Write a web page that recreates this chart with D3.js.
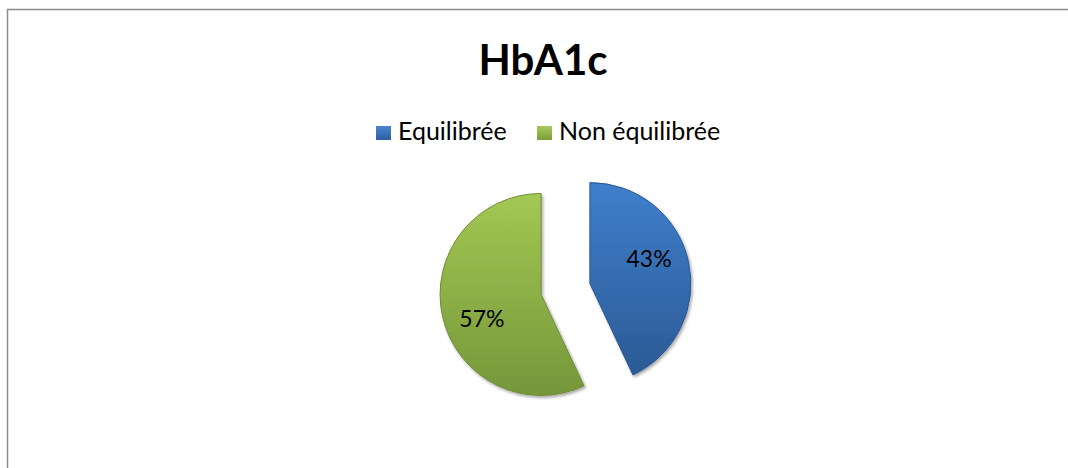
<!DOCTYPE html>
<html>
<head>
<meta charset="utf-8">
<script src="https://d3js.org/d3.v7.min.js"></script>
<style>
  body { margin: 0; background: #fff; }
  text { font-family: Lato, "Open Sans", sans-serif; }
</style>
</head>
<body>
<div id="chart"></div>
<script>
var title = "HbA1c";
var categories = ["Equilibrée", "Non équilibrée"];
var values = [43, 57];
var labels = ["43%", "57%"];

var width = 1068, height = 468;
var cx = 565.5, cy = 289, radius = 101, explode = 25;

var colors = [
  {top: "#3f7fcc", bottom: "#2b5a95", legendTop: "#4a86d0", legendBottom: "#2d5f9e"},
  {top: "#a3c853", bottom: "#76963a", legendTop: "#a6ca57", legendBottom: "#7c9c3c"}
];

var svg = d3.select("#chart")
  .append("svg")
    .attr("width", width)
    .attr("height", height);

var defs = svg.append("defs");

colors.forEach(function(c, i) {
  var g = defs.append("linearGradient")
      .attr("id", "grad" + i)
      .attr("x1", 0).attr("y1", 0).attr("x2", 0).attr("y2", 1);
  g.append("stop").attr("offset", "0%").attr("stop-color", c.top);
  g.append("stop").attr("offset", "100%").attr("stop-color", c.bottom);

  var lg = defs.append("linearGradient")
      .attr("id", "lgrad" + i)
      .attr("x1", 0).attr("y1", 0).attr("x2", 0).attr("y2", 1);
  lg.append("stop").attr("offset", "0%").attr("stop-color", c.legendTop);
  lg.append("stop").attr("offset", "100%").attr("stop-color", c.legendBottom);
});

var shadow = defs.append("filter").attr("id", "shadow")
    .attr("x", "-20%").attr("y", "-20%").attr("width", "140%").attr("height", "140%");
shadow.append("feDropShadow")
    .attr("dx", 1.5).attr("dy", 2)
    .attr("stdDeviation", 1.5)
    .attr("flood-color", "#000")
    .attr("flood-opacity", 0.35);

// frame (right and bottom edges fall outside the picture)
svg.append("rect")
    .attr("x", 7.5)
    .attr("y", 9.5)
    .attr("width", width + 20)
    .attr("height", height + 20)
    .attr("fill", "#fff")
    .attr("stroke", "#8c8c8c")
    .attr("stroke-width", 1.5);

// title
svg.append("text")
    .attr("x", 543)
    .attr("y", 75)
    .attr("text-anchor", "middle")
    .attr("font-size", "42px")
    .attr("font-weight", "bold")
    .attr("fill", "#000")
    .text(title);

// legend
var legend = svg.append("g");
var legendX = [376, 537];
categories.forEach(function(name, i) {
  legend.append("rect")
      .attr("x", legendX[i])
      .attr("y", 126)
      .attr("width", 15)
      .attr("height", 14)
      .attr("fill", "url(#lgrad" + i + ")");
  legend.append("text")
      .attr("x", legendX[i] + 22)
      .attr("y", 140)
      .attr("font-size", "25px")
      .attr("fill", "#000")
      .text(name);
});

// pie
var pie = d3.pie().sort(null).value(function(d) { return d; });
var arcs = pie(values);
var arc = d3.arc().innerRadius(0).outerRadius(radius);

function mid(d) { return (d.startAngle + d.endAngle) / 2; }

var slices = svg.append("g")
    .attr("transform", "translate(" + cx + "," + cy + ")");

slices.selectAll("path")
  .data(arcs)
  .enter()
  .append("path")
    .attr("transform", function(d) {
      var a = mid(d);
      return "translate(" + (Math.sin(a) * explode) + "," + (-Math.cos(a) * explode) + ")";
    })
    .attr("d", arc)
    .attr("fill", function(d, i) { return "url(#grad" + i + ")"; })
    .attr("stroke", function(d, i) { return i === 0 ? "#2a5790" : "#6f8c35"; })
    .attr("stroke-width", 1)
    .attr("filter", "url(#shadow)");

// data labels, a bit counter-clockwise of each bisector
var labelR = 64, labelTurn = 0.17;
slices.selectAll(".lbl")
  .data(arcs)
  .enter()
  .append("text")
    .attr("class", "lbl")
    .attr("transform", function(d) {
      var a = mid(d);
      var b = a - labelTurn;
      var x = Math.sin(a) * explode + Math.sin(b) * labelR;
      var y = -Math.cos(a) * explode - Math.cos(b) * labelR;
      return "translate(" + x + "," + y + ")";
    })
    .attr("text-anchor", "middle")
    .attr("dy", "0.35em")
    .attr("font-size", "23px")
    .attr("fill", "#000")
    .text(function(d, i) { return labels[i]; });
</script>
</body>
</html>
